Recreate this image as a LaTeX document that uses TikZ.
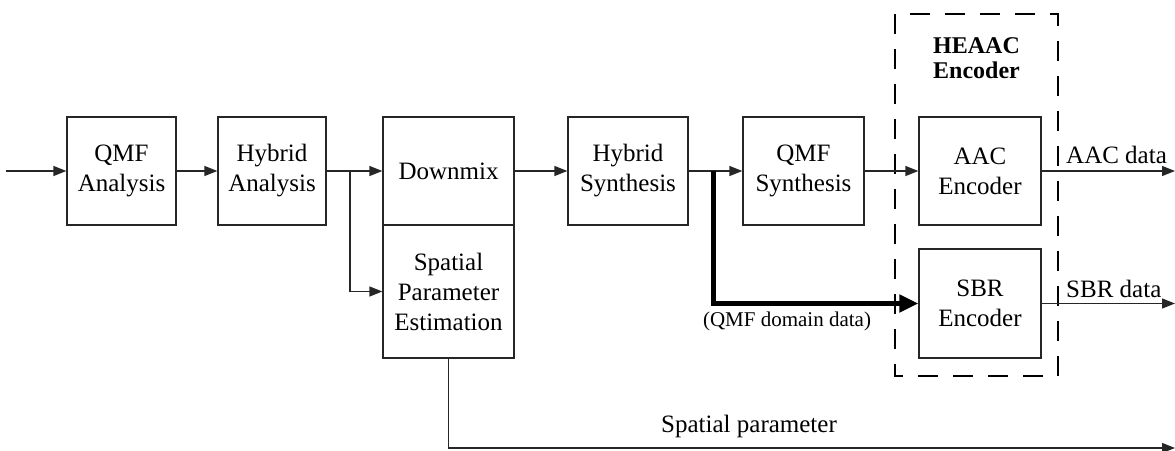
\documentclass[tikz,border=0pt]{standalone}
\usepackage{fontspec}
\setmainfont{Liberation Serif}
\usetikzlibrary{arrows.meta}

\tikzset{
  block/.style={draw=black!85, line width=1.2pt, rectangle, align=center,
    inner sep=0pt, font=\fontsize{25}{30}\selectfont},
  arr/.style={line width=1.2pt, draw=black!85,
    -{Triangle[length=13pt,width=10pt]}},
  fatarr/.style={line width=5pt, -{Triangle[length=19pt,width=17pt]}},
  lbl/.style={inner sep=0pt, font=\fontsize{25}{30}\selectfont},
  group/.style={line width=1.5pt, dash pattern=on 20pt off 15pt}
}

\begin{document}
\begin{tikzpicture}[x=1pt,y=-1pt]
  \useasboundingbox (0,0) rectangle (1175,450);

  % processing blocks
  \node[block, minimum width=109pt, minimum height=108pt] (qmfa) at (121.5,171) {QMF\\Analysis};
  \node[block, minimum width=108pt, minimum height=108pt] (hyba) at (272,171) {Hybrid\\Analysis};
  \node[block, minimum width=131pt, minimum height=108pt] (dmx) at (448.5,171) {Downmix};
  \node[block, minimum width=131pt, minimum height=133pt] (spe) at (448.5,291.5) {Spatial\\Parameter\\Estimation};
  \node[block, minimum width=120pt, minimum height=108pt] (hybs) at (628,171) {Hybrid\\Synthesis};
  \node[block, minimum width=121pt, minimum height=108pt] (qmfs) at (803.5,171) {QMF\\Synthesis};
  \node[block, minimum width=122pt, minimum height=108pt] (aac) at (980,171) {AAC\\Encoder};
  \node[block, minimum width=122pt, minimum height=109pt] (sbr) at (980,303.5) {SBR\\Encoder};

  % HE-AAC encoder grouping
  \draw[group] (895,14) rectangle (1058,376);
  \node[inner sep=0pt, align=center, font=\bfseries\fontsize{24}{25}\selectfont] (heaac) at (976.5,58) {HEAAC\\Encoder};

  % signal path
  \coordinate (in) at (6,171);
  \coordinate (br1) at (350,171);
  \coordinate (br2) at (713,171);
  \coordinate (outaac) at (1175,171);
  \coordinate (outsbr) at (1175,303.5);
  \coordinate (outsp) at (1175,448);

  \draw[arr] (in) -- (qmfa);
  \draw[arr] (qmfa) -- (hyba);
  \draw[arr] (hyba) -- (dmx);
  \draw[arr] (br1) |- (spe.west);
  \draw[arr] (dmx) -- (hybs);
  \draw[arr] (hybs) -- (qmfs);
  \draw[fatarr] (br2) |- (sbr.west);
  \draw[arr] (qmfs) -- (aac);
  \draw[arr] (aac) -- (outaac);
  \draw[arr] (sbr) -- (outsbr);
  \draw[arr] (spe.south) |- (outsp);

  % labels
  \node[lbl, anchor=base west] (laac) at (1066,163) {AAC data};
  \node[lbl, anchor=base west] (lsbr) at (1066,297) {SBR data};
  \node[lbl, anchor=base] (lsp) at (749,432) {Spatial parameter};
  \node[inner sep=0pt, anchor=base, font=\fontsize{21}{25}\selectfont] (lqmf) at (787,326) {(QMF domain data)};
\end{tikzpicture}
\end{document}
